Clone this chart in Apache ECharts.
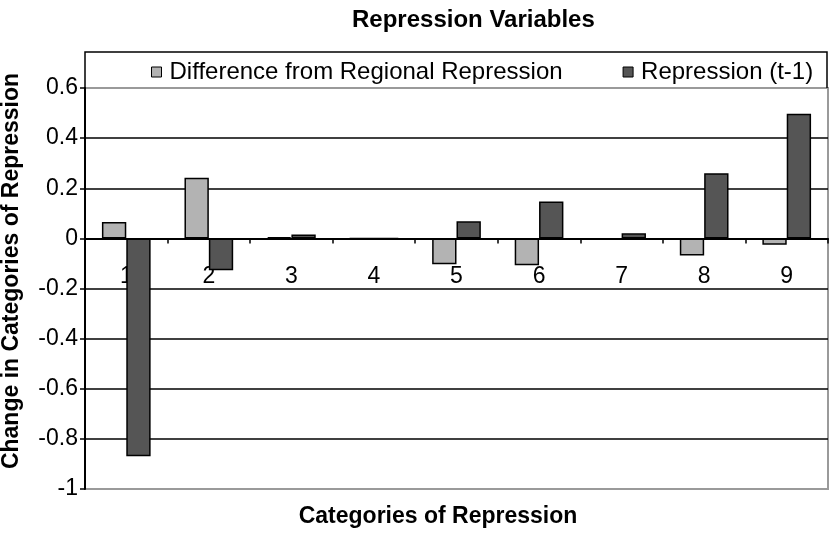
<!DOCTYPE html>
<html>
<head>
<meta charset="utf-8">
<script src="https://cdn.jsdelivr.net/npm/echarts@6/dist/echarts.min.js"></script>
<style>
  html, body { margin: 0; padding: 0; background: #fff; }
  #chart { width: 830px; height: 534px; }
</style>
</head>
<body>
<div id="chart"></div>
<script>
// Categories of repression (x axis)
const categories = ['1', '2', '3', '4', '5', '6', '7', '8', '9'];
// Change in categories of repression, per series
const diffRegional = [0.065, 0.242, 0.005, 0, -0.103, -0.107, -0.005, -0.068, -0.025];
const repressionLag = [-0.869, -0.127, 0.015, 0, 0.068, 0.147, 0.02, 0.26, 0.497];
// Value axis ticks
const yMin = -1, yMax = 0.6, yStep = 0.2;

const FONT = '"Liberation Sans", Arial, Helvetica, sans-serif';
const W = 830, H = 534;
const GRID = { left: 85, right: 2, top: 88, bottom: 45 };
// lift the category axis (line, ticks, labels) up to the zero value
const plotH = H - GRID.top - GRID.bottom;
const zeroLift = plotH * (0 - yMin) / (yMax - yMin);

const chart = echarts.init(document.getElementById('chart'));

chart.setOption({
  backgroundColor: '#ffffff',
  animation: false,
  textStyle: { fontFamily: FONT, color: '#000' },
  title: {
    text: 'Repression Variables',
    left: 347, top: 3,
    textStyle: { fontFamily: FONT, fontSize: 24, fontWeight: 'bold', color: '#000' }
  },
  legend: {
    left: 146, top: 55,
    icon: 'rect',
    itemWidth: 10, itemHeight: 10,
    itemGap: 60,
    itemStyle: { borderColor: '#000', borderWidth: 1 },
    textStyle: { fontFamily: FONT, fontSize: 24, color: '#000', padding: [0, 0, 0, 3] },
    data: ['Difference from Regional Repression', 'Repression (t-1)']
  },
  grid: Object.assign({
    show: true, borderColor: '#9a9a9a', borderWidth: 2, backgroundColor: 'transparent'
  }, GRID),
  xAxis: {
    type: 'category',
    data: categories,
    position: 'bottom',
    offset: -zeroLift,
    axisLine: { onZero: false, lineStyle: { color: '#000', width: 2 } },
    axisTick: { show: true, length: 5, lineStyle: { color: '#000', width: 1.5 } },
    axisLabel: { fontFamily: FONT, fontSize: 23, color: '#000', margin: 27 },
    splitLine: { show: false }
  },
  yAxis: {
    type: 'value',
    min: yMin, max: yMax, interval: yStep,
    axisLine: { show: true, lineStyle: { color: '#000', width: 2 } },
    axisTick: { show: true, length: 5, lineStyle: { color: '#000', width: 1.5 } },
    axisLabel: {
      fontFamily: FONT, fontSize: 23, color: '#000', margin: 7,
      formatter: v => String(Math.round(v * 10) / 10)
    },
    splitLine: { show: true, showMinLine: false, showMaxLine: false, lineStyle: { color: '#000', width: 1.5 } }
  },
  series: [
    {
      name: 'Difference from Regional Repression',
      type: 'bar',
      data: diffRegional,
      barGap: '0%',
      barCategoryGap: '41%',
      itemStyle: { color: '#b3b3b3', borderColor: '#000', borderWidth: 1.5 }
    },
    {
      name: 'Repression (t-1)',
      type: 'bar',
      data: repressionLag,
      barGap: '0%',
      barCategoryGap: '41%',
      itemStyle: { color: '#555555', borderColor: '#000', borderWidth: 1.5 }
    }
  ],
  graphic: [
    {
      // legend frame across the top of the plot (open at the bottom)
      type: 'polyline', z: 50, silent: true,
      shape: { points: [[85, 88], [85, 52], [827, 52], [827, 88]] },
      style: { fill: 'none', stroke: '#000', lineWidth: 1.5 }
    },
    {
      type: 'text', z: 50,
      x: 12, y: 271, rotation: Math.PI / 2,
      style: {
        text: 'Change in Categories of Repression',
        font: 'bold 23px ' + FONT, fill: '#000',
        align: 'center', verticalAlign: 'middle'
      }
    },
    {
      type: 'text', z: 50,
      x: 438, y: 517,
      style: {
        text: 'Categories of Repression',
        font: 'bold 23px ' + FONT, fill: '#000',
        align: 'center', verticalAlign: 'middle'
      }
    }
  ]
});
</script>
</body>
</html>
